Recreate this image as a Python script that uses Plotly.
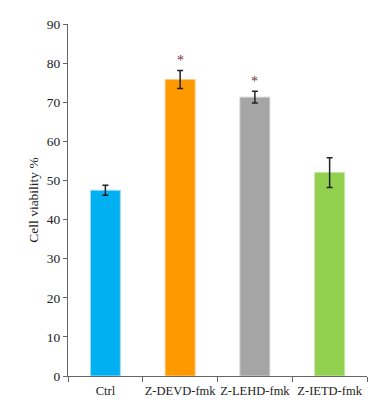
import plotly.graph_objects as go

categories = ["Ctrl", "Z-DEVD-fmk", "Z-LEHD-fmk", "Z-IETD-fmk"]
values = [47.5, 75.8, 71.3, 52.0]
errors = [1.3, 2.3, 1.5, 3.8]
colors = ["#00B0F0", "#FF9900", "#A5A5A5", "#92D050"]
border_colors = ["#9FDDF7", "#FFC77A", "#D0D0D0", "#C2E59C"]
significant = [False, True, True, False]
star_offset = 2.6

fig = go.Figure()
fig.add_trace(go.Bar(
    x=categories, y=values,
    marker=dict(color=colors, line=dict(color=border_colors, width=1)),
    width=0.4,
    error_y=dict(type="data", array=errors, visible=True, color="#222222", thickness=1.5, width=3),
    showlegend=False,
))

for c, v, e, s in zip(categories, values, errors, significant):
    if s:
        fig.add_annotation(x=c, y=v + e + star_offset, text="*", showarrow=False,
                           xref="x", yref="y", yanchor="middle",
                           font=dict(family="Liberation Serif", size=14, color="#7A2E3A"))

fig.update_layout(
    width=385, height=404,
    margin=dict(l=60, r=26, t=16, b=36, autoexpand=False),
    plot_bgcolor="white", paper_bgcolor="white",
    font=dict(family="Liberation Serif", size=13, color="#222222"),
)
fig.update_xaxes(
    type="category", range=[-0.5, 3.5],
    showline=True, linecolor="#666666", linewidth=1,
    ticks="outside", tickson="boundaries", ticklen=5, tickcolor="#666666",
    tickangle=0, automargin=False, ticklabelstandoff=3,
    tickfont=dict(family="Liberation Serif", size=12.5, color="#222222"),
    showgrid=False,
)
fig.update_yaxes(
    range=[0, 90], dtick=10,
    showline=True, linecolor="#666666", linewidth=1,
    ticks="outside", ticklen=4, tickcolor="#666666", automargin=False,
    tickfont=dict(family="Liberation Serif", size=13.5, color="#222222"),
    showgrid=False, zeroline=False,
    title=dict(text="Cell viability %", font=dict(family="Liberation Serif", size=13.5, color="#222222"), standoff=5),
)

fig.write_html("out.html")
